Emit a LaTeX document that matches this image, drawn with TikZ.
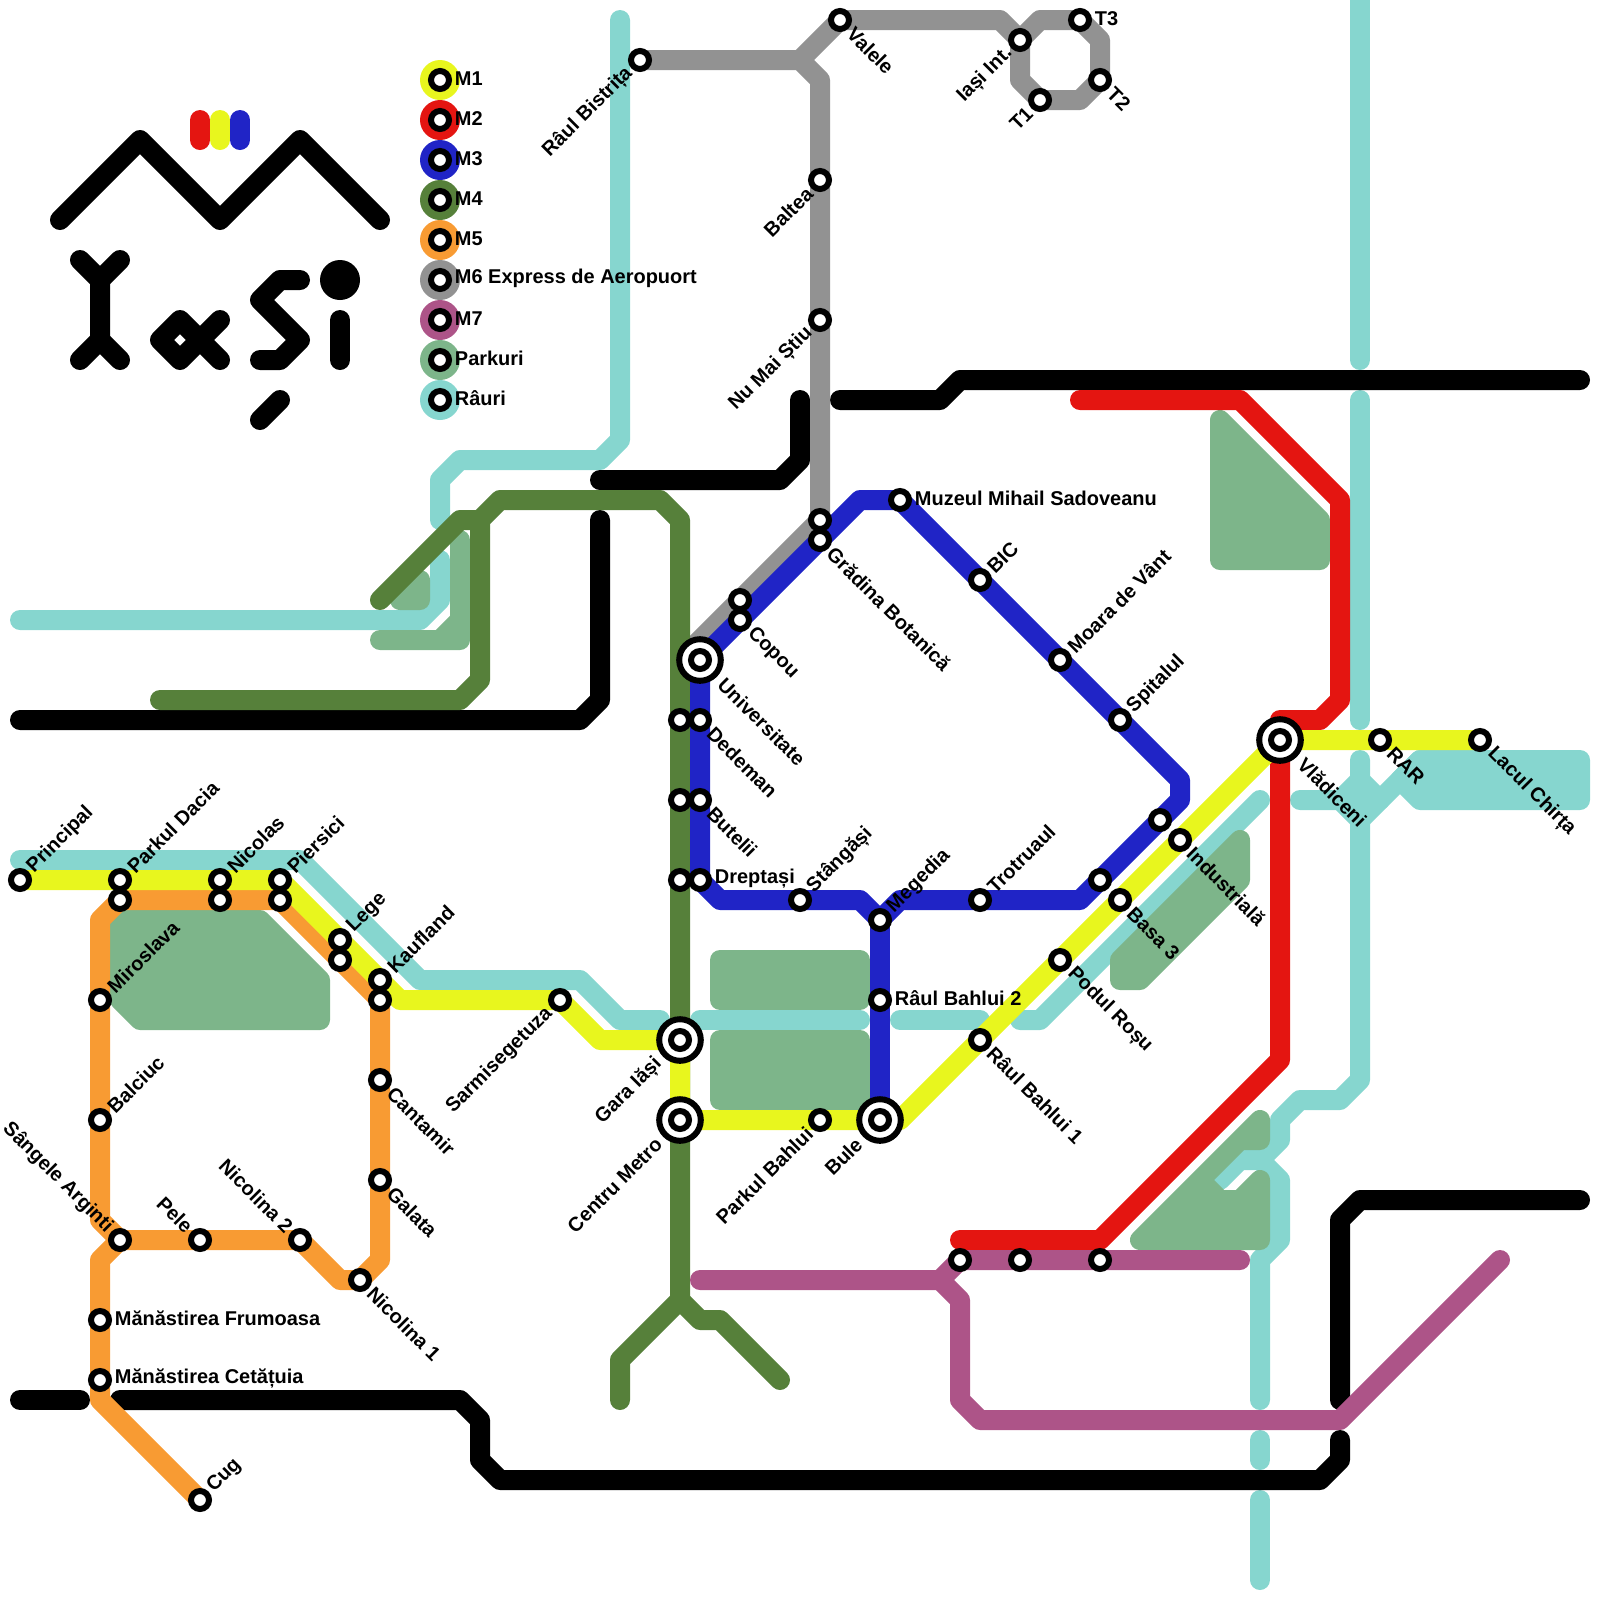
\documentclass[tikz,border=0pt]{standalone}
\usepackage{xcolor}
\usepackage{fontspec}
\setmainfont{Liberation Sans}
\usepackage{tikz}
\usetikzlibrary{positioning}
\definecolor{riverteal}{RGB}{134, 214, 207}
\definecolor{parkgreen}{RGB}{125, 181, 138}
\definecolor{lineyellow}{RGB}{232, 246, 30}
\definecolor{linered}{RGB}{228, 21, 17}
\definecolor{lineblue}{RGB}{32, 36, 198}
\definecolor{linegreen}{RGB}{86, 128, 58}
\definecolor{lineorange}{RGB}{248, 155, 51}
\definecolor{linegray}{RGB}{146, 146, 146}
\definecolor{linepurple}{RGB}{173, 84, 136}
\pgfdeclarelayer{stations}
\pgfsetlayers{main,stations}
\tikzset{
    metroline/.style={line width=0.25cm, line cap=round, line join=round},
    parkarea/.style={fill=parkgreen, draw=parkgreen, line width=0.25cm, line join=round},
    stn/.style={circle, draw=black, fill=white, line width=0.075cm, minimum size=0.225cm, inner sep=0pt, outer sep=0pt},
    hub/.style={circle, draw=black, fill=white, line width=0.075cm, minimum size=0.52cm, inner sep=0pt, outer sep=0pt},
    keydot/.style={circle, minimum size=0.5cm, inner sep=0pt, outer sep=0pt},
    stnlabel/.style={font=\fontsize{7.1}{8}\selectfont\bfseries, inner ysep=0pt, inner xsep=0.18cm},
    lne/.style={stnlabel, anchor=west, rotate=45},
    lse/.style={stnlabel, anchor=west, rotate=-45},
    lsw/.style={stnlabel, anchor=east, rotate=45},
    lnw/.style={stnlabel, anchor=east, rotate=-45},
    lee/.style={stnlabel, anchor=west, yshift=0.02cm},
}
\begin{document}
\begin{tikzpicture}[x=0.25cm, y=-0.25cm]
    \useasboundingbox (0,0) rectangle (80,80);

    \begin{pgfonlayer}{stations}
    % Legend
    \node[keydot, fill=lineyellow] (keyM1) at (22,4) {};
    \node[keydot, fill=linered] (keyM2) at (22,6) {};
    \node[keydot, fill=lineblue] (keyM3) at (22,8) {};
    \node[keydot, fill=linegreen] (keyM4) at (22,10) {};
    \node[keydot, fill=lineorange] (keyM5) at (22,12) {};
    \node[keydot, fill=linegray] (keyM6) at (22,14) {};
    \node[keydot, fill=linepurple] (keyM7) at (22,16) {};
    \node[keydot, fill=parkgreen] (keyPark) at (22,18) {};
    \node[keydot, fill=riverteal] (keyRiver) at (22,20) {};
    \node[stn] (stnM1) at (keyM1) {};
    \node[stn] (stnM2) at (keyM2) {};
    \node[stn] (stnM3) at (keyM3) {};
    \node[stn] (stnM4) at (keyM4) {};
    \node[stn] (stnM5) at (keyM5) {};
    \node[stn] (stnM6) at (keyM6) {};
    \node[stn] (stnM7) at (keyM7) {};
    \node[stn] (stnPark) at (keyPark) {};
    \node[stn] (stnRiver) at (keyRiver) {};
    \node[lee] (txtM1) at (keyM1) {M1};
    \node[lee] (txtM2) at (keyM2) {M2};
    \node[lee] (txtM3) at (keyM3) {M3};
    \node[lee] (txtM4) at (keyM4) {M4};
    \node[lee] (txtM5) at (keyM5) {M5};
    \node[lee] (txtM6) at (keyM6) {M6 Express de Aeropuort};
    \node[lee] (txtM7) at (keyM7) {M7};
    \node[lee] (txtPark) at (keyPark) {Parkuri};
    \node[lee] (txtRiver) at (keyRiver) {Râuri};

    % M1
    \node[stn] (principal) at (1,44) {};
    \node[stn] (dacia) at (6,44) {};
    \node[stn] (nicolas) at (11,44) {};
    \node[stn] (piersici) at (14,44) {};
    \node[stn] (lege) at (17,47) {};
    \node[stn] (kaufland) at (19,49) {};
    \node[stn] (sarmis) at (28,50) {};
    \node[hub] (gara) at (34,52) {};
    \node[stn] (garaIn) at (gara) {};
    \node[hub] (centru) at (34,56) {};
    \node[stn] (centruIn) at (centru) {};
    \node[stn] (pbahlui) at (41,56) {};
    \node[hub] (bule) at (44,56) {};
    \node[stn] (buleIn) at (bule) {};
    \node[stn] (bahluiA) at (49,52) {};
    \node[stn] (podul) at (53,48) {};
    \node[stn] (basa) at (56,45) {};
    \node[stn] (industriala) at (59,42) {};
    \node[hub] (vladiceni) at (64,37) {};
    \node[stn] (vladiceniIn) at (vladiceni) {};
    \node[stn] (rar) at (69,37) {};
    \node[stn] (chirta) at (74,37) {};

    % M3
    \node[hub] (universitate) at (35,33) {};
    \node[stn] (universitateIn) at (universitate) {};
    \node[stn] (copou) at (37,31) {};
    \node[stn] (gradina) at (41,27) {};
    \node[stn] (muzeul) at (45,25) {};
    \node[stn] (bic) at (49,29) {};
    \node[stn] (moara) at (53,33) {};
    \node[stn] (spitalul) at (56,36) {};
    \node[stn] (blueA) at (58,41) {};
    \node[stn] (blueB) at (55,44) {};
    \node[stn] (trotruaul) at (49,45) {};
    \node[stn] (megedia) at (44,46) {};
    \node[stn] (bahluiB) at (44,50) {};
    \node[stn] (stangasi) at (40,45) {};
    \node[stn] (dreptasi) at (35,44) {};
    \node[stn] (butelii) at (35,40) {};
    \node[stn] (dedeman) at (35,36) {};

    % M4
    \node[stn] (dedemanG) at (34,36) {};
    \node[stn] (buteliiG) at (34,40) {};
    \node[stn] (dreptasiG) at (34,44) {};

    % M5
    \node[stn] (daciaO) at (6,45) {};
    \node[stn] (nicolasO) at (11,45) {};
    \node[stn] (piersiciO) at (14,45) {};
    \node[stn] (legeO) at (17,48) {};
    \node[stn] (kauflandO) at (19,50) {};
    \node[stn] (miroslava) at (5,50) {};
    \node[stn] (balciuc) at (5,56) {};
    \node[stn] (sangele) at (6,62) {};
    \node[stn] (pele) at (10,62) {};
    \node[stn] (nicolinaB) at (15,62) {};
    \node[stn] (nicolinaA) at (18,64) {};
    \node[stn] (galata) at (19,59) {};
    \node[stn] (cantamir) at (19,54) {};
    \node[stn] (frumoasa) at (5,66) {};
    \node[stn] (cetatuia) at (5,69) {};
    \node[stn] (cug) at (10,75) {};

    % M6
    \node[stn] (bistrita) at (32,3) {};
    \node[stn] (valele) at (42,1) {};
    \node[stn] (iasiint) at (51,2) {};
    \node[stn] (tthree) at (54,1) {};
    \node[stn] (ttwo) at (55,4) {};
    \node[stn] (tone) at (52,5) {};
    \node[stn] (baltea) at (41,9) {};
    \node[stn] (nustiu) at (41,16) {};
    \node[stn] (gradinaG) at (41,26) {};
    \node[stn] (copouG) at (37,30) {};

    % M7
    \node[stn] (purpleA) at (48,63) {};
    \node[stn] (purpleB) at (51,63) {};
    \node[stn] (purpleC) at (55,63) {};

    % Labels
    \node[lne] (lprincipal) at (principal) {Principal};
    \node[lne] (ldacia) at (dacia) {Parkul Dacia};
    \node[lne] (lnicolas) at (nicolas) {Nicolas};
    \node[lne] (lpiersici) at (piersici) {Piersici};
    \node[lne] (llege) at (lege) {Lege};
    \node[lne] (lkaufland) at (kaufland) {Kaufland};
    \node[lne] (lmiroslava) at (miroslava) {Miroslava};
    \node[lne] (lbalciuc) at (balciuc) {Balciuc};
    \node[lne] (lcug) at (cug) {Cug};
    \node[lne] (lstangasi) at (stangasi) {Stângăși};
    \node[lne] (lmegedia) at (megedia) {Megedia};
    \node[lne] (ltrotruaul) at (trotruaul) {Trotruaul};
    \node[lne] (lbic) at (bic) {BIC};
    \node[lne] (lmoara) at (moara) {Moara de Vânt};
    \node[lne] (lspitalul) at (spitalul) {Spitalul};
    \node[lnw] (lsangele) at (sangele) {Sângele Arginti};
    \node[lnw] (lpele) at (pele) {Pele};
    \node[lnw] (lnicolinaB) at (nicolinaB) {Nicolina 2};
    \node[lse] (lnicolinaA) at (nicolinaA) {Nicolina 1};
    \node[lse] (lcantamir) at (cantamir) {Cantamir};
    \node[lse] (lgalata) at (galata) {Galata};
    \node[lse] (lcopou) at (copou) {Copou};
    \node[lse] (lgradina) at (gradina) {Grădina Botanică};
    \node[lse, inner xsep=0.37cm] (luniversitate) at (universitate) {Universitate};
    \node[lse] (ldedeman) at (dedeman) {Dedeman};
    \node[lse] (lbutelii) at (butelii) {Butelii};
    \node[lse] (lbahluiA) at (bahluiA) {Râul Bahlui 1};
    \node[lse] (lpodul) at (podul) {Podul Roșu};
    \node[lse] (lbasa) at (basa) {Basa 3};
    \node[lse] (lindustriala) at (industriala) {Industrială};
    \node[lse, inner xsep=0.37cm] (lvladiceni) at (vladiceni) {Vlădiceni};
    \node[lse] (lrar) at (rar) {RAR};
    \node[lse] (lchirta) at (chirta) {Lacul Chirța};
    \node[lse] (lvalele) at (valele) {Valele};
    \node[lse] (lttwo) at (ttwo) {T2};
    \node[lsw] (lbistrita) at (bistrita) {Râul Bistrița};
    \node[lsw] (liasiint) at (iasiint) {Iași Int.};
    \node[lsw] (ltone) at (tone) {T1};
    \node[lsw] (lbaltea) at (baltea) {Baltea};
    \node[lsw] (lnustiu) at (nustiu) {Nu Mai Știu};
    \node[lsw] (lsarmis) at (sarmis) {Sarmisegetuza};
    \node[lsw, inner xsep=0.37cm] (lgara) at (gara) {Gara Iăși};
    \node[lsw, inner xsep=0.37cm] (lcentru) at (centru) {Centru Metro};
    \node[lsw] (lpbahlui) at (pbahlui) {Parkul Bahlui};
    \node[lsw, inner xsep=0.37cm] (lbule) at (bule) {Bule};
    \node[lee] (lmuzeul) at (muzeul) {Muzeul Mihail Sadoveanu};
    \node[lee] (lbahluiB) at (bahluiB) {Râul Bahlui 2};
    \node[lee] (ldreptasi) at (dreptasi) {Dreptași};
    \node[lee] (lfrumoasa) at (frumoasa) {Mănăstirea Frumoasa};
    \node[lee] (lcetatuia) at (cetatuia) {Mănăstirea Cetățuia};
    \node[lee] (ltthree) at (tthree) {T3};
    \end{pgfonlayer}

    % Rivers
    \draw[metroline, riverteal] (31,1) -- (31,22) -- (30,23) -- (23,23) -- (22,24) -- (22,26);
    \draw[metroline, riverteal] (1,31) -- (21,31) -- (22,30) -- (22,28);
    \draw[metroline, riverteal] (1,43) -- (15,43) -- (21,49) -- (29,49) -- (31,51) -- (33,51);
    \draw[metroline, riverteal] (35,51) -- (43,51);
    \draw[metroline, riverteal] (45,51) -- (49,51);
    \draw[metroline, riverteal] (51,51) -- (52,51) -- (63,40);
    \draw[metroline, riverteal] (68,0) -- (68,18);
    \draw[metroline, riverteal] (68,20) -- (68,36);
    \draw[metroline, riverteal] (68,38) -- (68,54) -- (67,55) -- (65,55) -- (64,56) -- (64,57) -- (63,58) -- (64,59) -- (64,62) -- (63,63) -- (63,70);
    \draw[metroline, riverteal] (63,58) -- (62,58) -- (61,59);
    \draw[metroline, riverteal] (63,72) -- (63,73);
    \draw[metroline, riverteal] (63,75) -- (63,79);
    \draw[metroline, riverteal] (65,40) -- (67,40) -- (68,41) -- (71,38);
    \draw[metroline, riverteal] (67,40) -- (68,39) -- (69,40);
    \draw[metroline, riverteal, fill=riverteal] (71,38) -- (79,38) -- (79,40) -- (71,40) -- (70,39) -- cycle;

    % Parks
    \draw[parkarea] (61,21) -- (66,26) -- (66,28) -- (61,28) -- cycle;
    \draw[parkarea] (6,46) -- (13,46) -- (16,49) -- (16,51) -- (7,51) -- (6,50) -- cycle;
    \draw[parkarea] (21,29) -- (20,30) -- (21,30) -- cycle;
    \draw[parkarea] (23,27) -- (23,32) -- (19,32) -- (22,32) -- (23,31) -- cycle;
    \draw[parkarea] (36,48) -- (43,48) -- (43,50) -- (36,50) -- cycle;
    \draw[parkarea] (36,52) -- (43,52) -- (43,55) -- (36,55) -- cycle;
    \draw[parkarea] (62,42) -- (62,44) -- (57,49) -- (56,49) -- (56,48) -- cycle;
    \draw[parkarea] (63,56) -- (63,57) -- (62,57) -- (60,59) -- (61,60) -- (62,60) -- (63,59) -- (63,62) -- (57,62) -- cycle;

    % Roads
    \draw[metroline, black] (1,36) -- (29,36) -- (30,35) -- (30,26);
    \draw[metroline, black] (30,24) -- (39,24) -- (40,23) -- (40,20);
    \draw[metroline, black] (42,20) -- (47,20) -- (48,19) -- (79,19);
    \draw[metroline, black] (1,70) -- (4,70);
    \draw[metroline, black] (6,70) -- (23,70) -- (24,71) -- (24,73) -- (25,74) -- (66,74) -- (67,73) -- (67,72);
    \draw[metroline, black] (67,70) -- (67,61) -- (68,60) -- (79,60);

    % Lines
    \draw[metroline, linegray] (bistrita.center) -- (40,3) -- (41,4) -- (baltea.center) -- (nustiu.center) -- (gradinaG.center) -- (copouG.center) -- (34,33);
    \draw[metroline, linegray] (40,3) -- (valele.center) -- (50,1) -- (iasiint.center);
    \draw[metroline, linegray] (iasiint.center) -- (52,1) -- (tthree.center) -- (55,2) -- (ttwo.center) -- (54,5) -- (tone.center) -- (51,4) -- cycle;
    \draw[metroline, linegreen] (8,35) -- (23,35) -- (24,34) -- (24,26) -- (25,25) -- (33,25) -- (34,26) -- (dedemanG.center) -- (buteliiG.center) -- (dreptasiG.center) -- (gara.center) -- (centru.center) -- (34,65);
    \draw[metroline, linegreen] (19,30) -- (23,26) -- (24,26);
    \draw[metroline, linegreen] (31,70) -- (31,68) -- (34,65) -- (35,66) -- (36,66) -- (39,69);
    \draw[metroline, lineblue] (universitate.center) -- (copou.center) -- (gradina.center) -- (43,25) -- (muzeul.center) -- (bic.center) -- (moara.center) -- (spitalul.center) -- (59,39) -- (59,40) -- (blueA.center) -- (blueB.center) -- (54,45) -- (trotruaul.center) -- (45,45) -- (megedia.center) -- (43,45) -- (stangasi.center) -- (36,45) -- (dreptasi.center) -- (butelii.center) -- (dedeman.center) -- cycle;
    \draw[metroline, lineblue] (megedia.center) -- (bahluiB.center) -- (bule.center);
    \draw[metroline, lineorange] (sangele.center) -- (5,61) -- (balciuc.center) -- (miroslava.center) -- (5,46) -- (daciaO.center) -- (nicolasO.center) -- (piersiciO.center) -- (legeO.center) -- (kauflandO.center) -- (cantamir.center) -- (galata.center) -- (19,63) -- (nicolinaA.center) -- (17,64) -- (nicolinaB.center) -- (pele.center) -- cycle;
    \draw[metroline, lineorange] (sangele.center) -- (5,63) -- (frumoasa.center) -- (cetatuia.center) -- (5,70) -- (cug.center);
    \draw[metroline, linered] (54,20) -- (62,20) -- (67,25) -- (67,35) -- (66,36) -- (64,36) -- (vladiceni.center) -- (64,53) -- (55,62) -- (48,62);
    \draw[metroline, linepurple] (35,64) -- (47,64) -- (purpleA.center) -- (purpleB.center) -- (purpleC.center) -- (62,63);
    \draw[metroline, linepurple] (47,64) -- (48,65) -- (48,70) -- (49,71) -- (67,71) -- (75,63);
    \draw[metroline, lineyellow] (principal.center) -- (dacia.center) -- (nicolas.center) -- (piersici.center) -- (lege.center) -- (kaufland.center) -- (20,50) -- (sarmis.center) -- (30,52) -- (gara.center) -- (centru.center) -- (pbahlui.center) -- (bule.center) -- (45,56) -- (bahluiA.center) -- (podul.center) -- (basa.center) -- (industriala.center) -- (vladiceni.center) -- (rar.center) -- (chirta.center);

    % Logo
    \draw[metroline, black] (3,11) -- (7,7) -- (11,11) -- (15,7) -- (19,11);
    \draw[metroline, linered] (10,6) -- (10,7);
    \draw[metroline, lineyellow] (11,6) -- (11,7);
    \draw[metroline, lineblue] (12,6) -- (12,7);
    \draw[metroline, black] (4,13) -- (5,14) -- (6,13);
    \draw[metroline, black] (5,14) -- (5,17) -- (4,18);
    \draw[metroline, black] (5,17) -- (6,18);
    \draw[metroline, black] (11,16) -- (9,18) -- (8,17) -- (9,16) -- (11,18);
    \draw[metroline, black] (15,14) -- (14,14) -- (13,15) -- (15,17) -- (14,18) -- (13,18);
    \draw[metroline, black] (14,20) -- (13,21);
    \fill[black] (17,14) circle (1);
    \draw[metroline, black] (17,16) -- (17,18);
\end{tikzpicture}
\end{document}
